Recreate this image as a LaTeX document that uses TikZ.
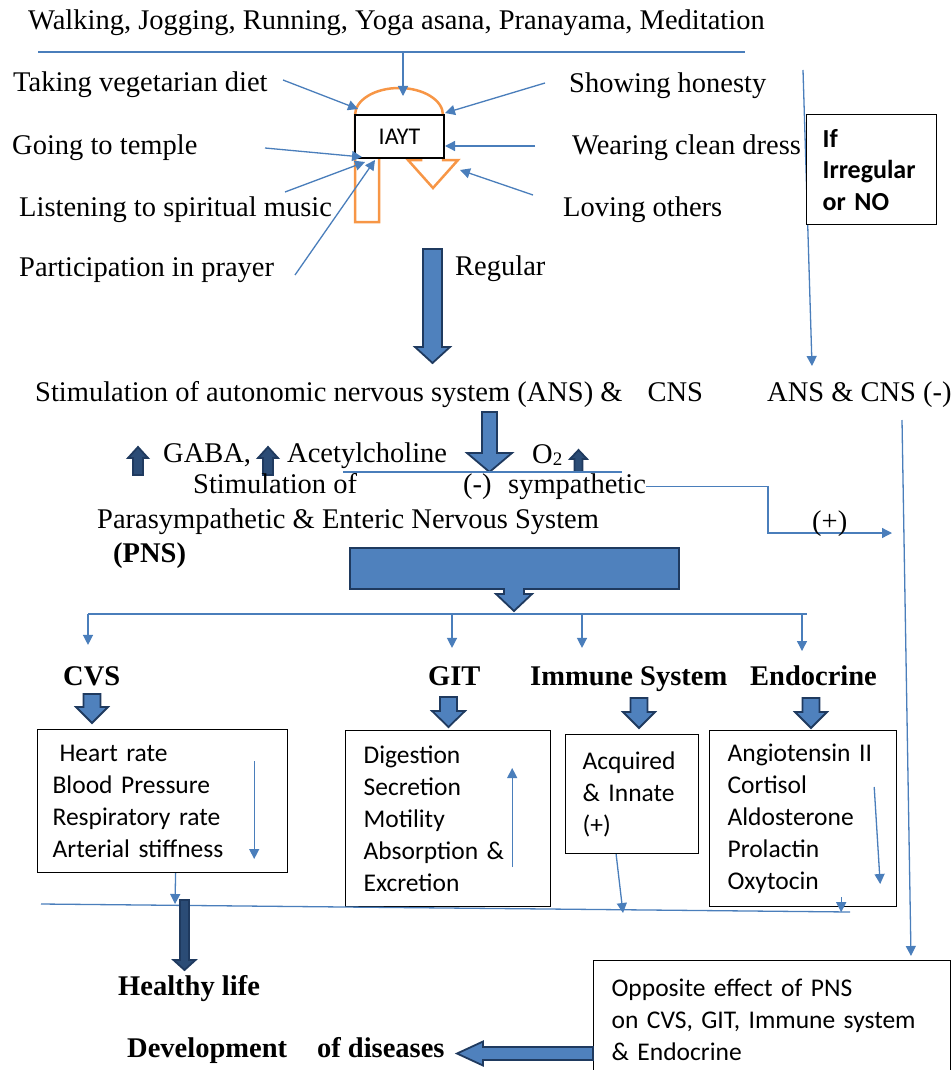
\documentclass[tikz,border=0pt]{standalone}
\usepackage{fontspec}
\setmainfont{Liberation Serif}
\newfontfamily\calibri{Carlito}
\usetikzlibrary{arrows.meta,positioning,calc}

\definecolor{lnblue}{HTML}{4A7EBB}
\definecolor{blkfill}{HTML}{4F81BD}
\definecolor{blkedge}{HTML}{1F3A5F}
\definecolor{iaytorange}{HTML}{F79646}

\tikzset{
    pics/bdown/.style n args={4}{code={
        \path[blk] (-#2,0) -- (-#2,#1-#4) -- (-#3,#1-#4) -- (0,#1) -- (#3,#1-#4) -- (#2,#1-#4) -- (#2,0) -- cycle;
    }}
}

\begin{document}
\begin{tikzpicture}[x=1pt, y=-1pt,
    txt/.style={inner sep=0pt, anchor=base west, font=\fontsize{28.5}{32}\selectfont},
    hd/.style={inner sep=0pt, anchor=base west, font=\fontsize{28.5}{32}\selectfont\bfseries},
    ln/.style={draw=lnblue, line width=1.3pt},
    conn/.style={ln, -{Triangle[length=10pt, width=10pt]}},
    blk/.style={fill=blkfill, draw=blkedge, line width=1.8pt, line join=miter},
    darkblk/.style={blk/.append style={fill=blkedge!75!blkfill}},
    cbox/.style={draw, line width=1.2pt, fill=white, anchor=north west, align=left, inner ysep=0pt, font=\calibri\fontsize{25.5}{32}\selectfont}
]
\useasboundingbox (0,0) rectangle (952,1070);

% practices feeding IAYT
\node[txt] (walk) at (28,30) {Walking, Jogging, Running, Yoga asana, Pranayama, Meditation};
\node[txt] (diet) at (13,92) {Taking vegetarian diet};
\node[txt] (temple) at (12,154) {Going to temple};
\node[txt] (music) at (19,216) {Listening to spiritual music};
\node[txt] (prayer) at (19,276) {Participation in prayer};
\node[txt] (honesty) at (569,93) {Showing honesty};
\node[txt] (dress) at (572,154) {Wearing clean dress};
\node[txt] (loving) at (563,216) {Loving others};
\node[txt] (regular) at (455,275) {Regular};

\draw[iaytorange, line width=2.5pt, line join=miter] (355,222) -- (355,115)
    arc[start angle=180, end angle=360, x radius=44, y radius=27] -- (443,160) -- (458,160) -- (433,188)
    -- (408,160) -- (421,160) -- (421,132) arc[start angle=0, end angle=-180, x radius=21, y radius=8]
    -- (379,222) -- cycle;
\node[draw, fill=white, line width=1.3pt, minimum width=89pt, minimum height=43pt, font=\calibri\fontsize{24}{28}\selectfont] (iayt) at (399.5,136.5) {IAYT};

\coordinate (topL) at (38,52);
\coordinate (topR) at (745,52);
\coordinate (topM) at (403,52);
\coordinate (archT) at (403,96);
\draw[ln] (topL) -- (topR);
\draw[conn] (topM) -- (archT);

\coordinate (dietS) at (283,80);     \coordinate (dietT) at (358,109);
\coordinate (templeS) at (265,148);  \coordinate (templeT) at (362,157);
\coordinate (musicS) at (285,192);   \coordinate (musicT) at (365,162);
\coordinate (prayerS) at (295,275);  \coordinate (prayerT) at (375,160);
\coordinate (honestyS) at (545,83);  \coordinate (honestyT) at (445,113);
\coordinate (dressS) at (535,146);   \coordinate (dressT) at (445,146);
\coordinate (lovingS) at (533,195);  \coordinate (lovingT) at (460,170);
\draw[conn] (dietS) -- (dietT);
\draw[conn] (templeS) -- (templeT);
\draw[conn] (musicS) -- (musicT);
\draw[conn] (prayerS) -- (prayerT);
\draw[conn] (honestyS) -- (honestyT);
\draw[conn] (dressS) -- (dressT);
\draw[conn] (lovingS) -- (lovingT);

% irregular branch
\coordinate (irrTop) at (803,70);
\coordinate (ansRT) at (812,366);
\draw[conn] (irrTop) -- (ansRT);
\node[cbox, font=\calibri\bfseries\fontsize{26}{31.5}\selectfont, minimum width=130pt, minimum height=110pt, text width=98pt, inner xsep=16pt] (irr) at (806,114) {If\\Irregular\\or NO};

\pic at (432.5,249) {bdown={114}{9.5}{17.5}{16}};

\node[txt] (ans) at (35,401) {Stimulation of autonomic nervous system (ANS) \&\hspace{25pt}CNS};
\node[txt] (ansR) at (767,401) {ANS \& CNS (-)};

\pic at (489.5,412) {bdown={60}{7.5}{22.5}{19}};

\pic[rotate=180, darkblk] at (138,475) {bdown={28}{5}{10}{11}};
\node[txt] (gaba) at (163,462) {GABA,};
\pic[rotate=180, darkblk] at (268,475) {bdown={28}{5}{10}{11}};
\node[txt] (ach) at (287,462) {Acetylcholine};
\node[txt] (otwo) at (532,463) {O\raisebox{-2pt}{\fontsize{19}{20}\selectfont 2}};
\pic[rotate=180, darkblk] at (578.5,472) {bdown={22}{4}{8.5}{9}};

\coordinate (symL) at (343,472);
\coordinate (symR) at (622,472);
\draw[ln] (symL) -- (symR);

\node[txt] (stimof) at (193,493) {Stimulation of};
\node[txt] (minus) at (463,493) {(-)};
\node[txt] (symp) at (508,493) {sympathetic};
\node[txt] (paras) at (97,528) {Parasympathetic \& Enteric Nervous System};
\node[hd] (pns) at (113,562) {(PNS)};

\coordinate (plusK) at (768,533);
\coordinate (plusT) at (892,533);
\draw[conn] (symp.east) -| (plusK) -- (plusT);
\node[txt] (plus) at (812,530) {(+)};

\coordinate (rvTop) at (902,420);
\coordinate (rvT) at (911,956);
\draw[conn] (rvTop) -- (rvT);

% PNS to the four systems
\path[blk] (350,548) -- (679,548) -- (679,589) -- (524,589) -- (524,594) -- (532,594) -- (514,611)
    -- (496,594) -- (504,594) -- (504,589) -- (350,589) -- cycle;

\coordinate (dCVS) at (88,614);
\coordinate (dGIT) at (452,614);
\coordinate (dIMM) at (582,614);
\coordinate (dEND) at (802,614);
\coordinate (dR) at (807,614);
\draw[ln] (dCVS) -- (dR);

\node[hd] (cvs) at (63,685) {CVS};
\node[hd] (git) at (428,685) {GIT};
\node[hd] (imm) at (530,685) {Immune System};
\node[hd] (endo) at (750,685) {Endocrine};

\draw[conn, shorten >=21pt] (dCVS) -- (dCVS |- cvs.north);
\draw[conn, shorten >=18pt] (dGIT) -- (dGIT |- git.north);
\draw[conn, shorten >=18pt] (dIMM) -- (dIMM |- imm.north);
\draw[conn, shorten >=14pt] (dEND) -- (dEND |- endo.north);

\pic at (92,694) {bdown={29}{8.5}{16}{16}};
\pic at (448.5,697) {bdown={30}{8.5}{16.5}{16}};
\pic at (639,698) {bdown={30}{8.5}{16}{16}};
\pic at (811,698) {bdown={30}{8.5}{16}{16}};

\node[cbox, minimum height=143pt, text width=220pt, inner xsep=15pt] (cvsbox) at (37,729) {\hspace*{7pt}Heart rate\\Blood Pressure\\Respiratory rate\\Arterial stiffness};
\node[cbox, minimum height=176pt, text width=169pt, inner xsep=18pt] (gitbox) at (345,730) {Digestion\\Secretion\\Motility\\Absorption \&\\Excretion};
\node[cbox, minimum height=119pt, text width=99pt, inner xsep=17pt] (immbox) at (565,734) {Acquired\\\& Innate\\(+)};
\node[cbox, minimum height=176pt, text width=151pt, inner xsep=18pt] (endobox) at (709,730) {Angiotensin II\\Cortisol\\Aldosterone\\Prolactin\\Oxytocin};

\draw[conn] (cvsbox.north east) ++(-34,32) -- ++(0,98);
\draw[conn] (gitbox.north east) ++(-39,137) -- ++(0,-99);
\draw[conn] (endobox.north east) ++(-23,57) -- ++(6,97);

% outcome
\coordinate (botL) at (41,904);
\coordinate (botR) at (850,912);
\coordinate (cvsT) at (175,904);
\coordinate (immT) at (623,913);
\draw[ln] (botL) -- (botR);
\draw[conn] ([xshift=13pt]cvsbox.south) -- (cvsT);
\draw[conn] ([xshift=-16pt]immbox.south) -- (immT);
\draw[conn] (endobox.south east) ++(-56,-10) -- ++(0,15);

\pic[darkblk] at (184.5,900) {bdown={70}{4.5}{11}{10}};
\node[hd] (healthy) at (118,995) {Healthy life};
\node[hd] (devel) at (127,1057) {Development\hspace{30pt}of diseases};

\node[cbox, minimum height=118pt, text width=321pt, inner xsep=18pt] (oppbox) at (593,960) {Opposite effect of PNS\\on CVS, GIT, Immune system\\\& Endocrine};
\pic[rotate=-90] at (593,1053.5) {bdown={136}{6.5}{12}{26}};

\end{tikzpicture}
\end{document}
